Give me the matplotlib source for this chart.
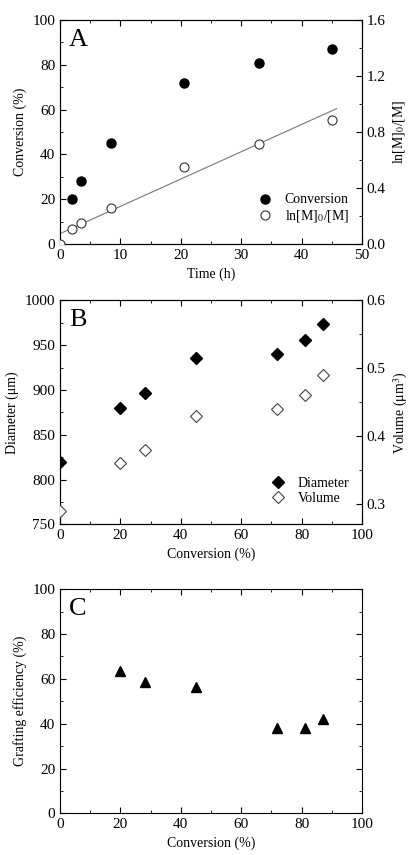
import numpy as np
import matplotlib
matplotlib.use("Agg")
import matplotlib.pyplot as plt
from matplotlib.ticker import MultipleLocator

plt.rcParams['font.family'] = ['Liberation Serif', 'DejaVu Serif']
plt.rcParams['mathtext.fontset'] = 'stix'
plt.rcParams['font.size'] = 10

# panel A: kinetics
time_h = [2, 3.5, 8.5, 20.5, 33, 45]
conversion = [20, 28, 45, 72, 81, 87]
time_ln = [0, 2, 3.5, 8.5, 20.5, 33, 45]
ln_m0_m = [0.0, 0.105, 0.148, 0.257, 0.55, 0.716, 0.884]
fit_t = [0, 45.8]
fit_ln = [0.074, 0.967]

# panel B: particle size
conv_b = [0, 20, 28, 45, 72, 81, 87]
diameter = [820, 880, 897, 936, 940, 956, 974]
volume = [0.29, 0.36, 0.38, 0.43, 0.44, 0.46, 0.49]

# panel C: grafting efficiency
conv_c = [20, 28, 45, 72, 81, 87]
graft_eff = [63.5, 58.5, 56.5, 38, 38.3, 42]

fig = plt.figure(figsize=(4.09, 8.55), dpi=100)
left, width, height = 60/409, 302/409, 224/855
TICK = 11

def ticks(ax, ymaj, ymin, xmaj=None, xmin=None, right=True):
    if xmaj is not None:
        ax.xaxis.set_major_locator(MultipleLocator(xmaj))
        ax.xaxis.set_minor_locator(MultipleLocator(xmin))
    ax.yaxis.set_major_locator(MultipleLocator(ymaj))
    ax.yaxis.set_minor_locator(MultipleLocator(ymin))
    ax.tick_params(which='both', direction='in', top=True, right=right, labelsize=TICK)
    ax.tick_params(which='major', length=4)
    ax.tick_params(which='minor', length=2)

def legend_both(ax, ax2, y0):
    h1, l1 = ax.get_legend_handles_labels()
    h2, l2 = ax2.get_legend_handles_labels()
    ax2.legend(h1 + h2, l1 + l2, loc='lower right', bbox_to_anchor=(0.985, y0), frameon=False,
               fontsize=10, handletextpad=0.8, labelspacing=0.15, handlelength=1.2,
               borderaxespad=0.2)

# ---- A ----
axA = fig.add_axes([left, 1 - 244/855, width, height])
axA2 = axA.twinx()
axA.plot(time_h, conversion, 'o', color='black', ms=6.5, label='Conversion', zorder=3)
axA2.plot(time_ln, ln_m0_m, 'o', mfc='white', mec='#333333', mew=0.8, ms=6.5, label='ln[M]$_0$/[M]', zorder=3)
axA2.plot(fit_t, fit_ln, '-', color='#777777', lw=0.8)
axA.set_xlim(0, 50)
axA.set_ylim(0, 100)
axA2.set_ylim(0, 1.6)
ticks(axA, 20, 10, 10, 5, right=False)
ticks(axA2, 0.4, 0.2)
axA2.yaxis.set_major_formatter(plt.FuncFormatter(lambda v, p: f"{v:.1f}"))
axA.set_xlabel('Time (h)')
axA.set_ylabel('Conversion (%)')
axA2.set_ylabel('ln[M]$_0$/[M]')
axA.text(0.03, 0.96, 'A', transform=axA.transAxes, fontsize=19, va='top', ha='left')
legend_both(axA, axA2, 0.05)

# ---- B ----
axB = fig.add_axes([left, 1 - 524.3/855, width, height])
axB2 = axB.twinx()
axB.plot(conv_b, diameter, 'D', color='black', ms=6, label='Diameter', zorder=3)
axB2.plot(conv_b, volume, 'D', mfc='white', mec='#444444', mew=0.8, ms=6, label='Volume', zorder=3)
axB.set_xlim(0, 100)
axB.set_ylim(750, 1000)
axB2.set_ylim(0.27, 0.6)
ticks(axB, 50, 25, 20, 10, right=False)
ticks(axB2, 0.1, 0.05)
axB.set_xlabel('Conversion (%)')
axB.set_ylabel('Diameter (μm)')
axB2.set_ylabel('Volume (μm$^3$)')
axB.text(0.03, 0.96, 'B', transform=axB.transAxes, fontsize=19, va='top', ha='left')
legend_both(axB, axB2, 0.05)

# ---- C ----
axC = fig.add_axes([left, 1 - 813.3/855, width, height])
axC.plot(conv_c, graft_eff, '^', color='black', ms=6.5)
axC.set_xlim(0, 100)
axC.set_ylim(0, 100)
ticks(axC, 20, 10, 20, 10)
axC.set_xlabel('Conversion (%)')
axC.set_ylabel('Grafting efficiency (%)')
axC.text(0.03, 0.96, 'C', transform=axC.transAxes, fontsize=19, va='top', ha='left')

fig.savefig('out.png', dpi=100)
